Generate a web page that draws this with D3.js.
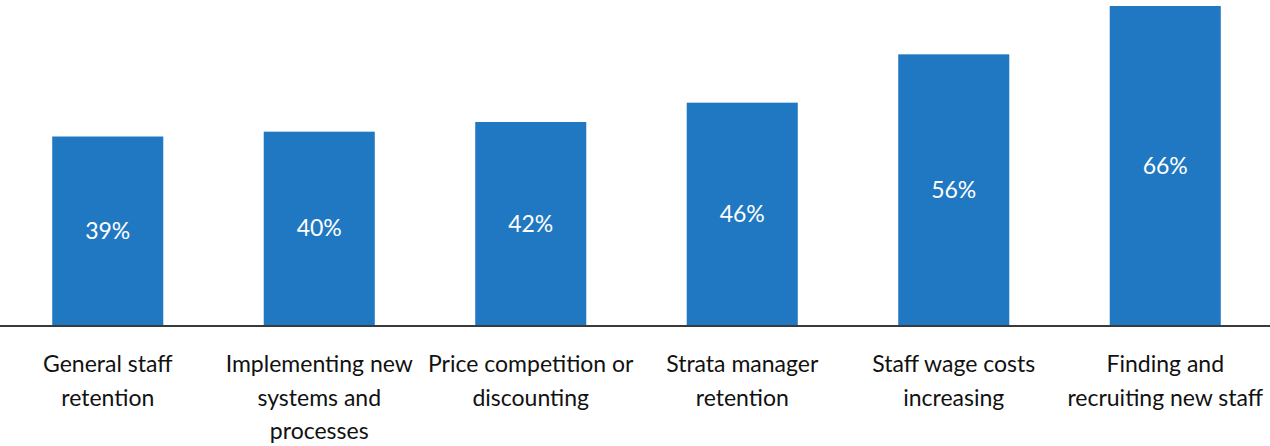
<!DOCTYPE html>
<html>
<head>
<meta charset="utf-8">
<script src="https://cdn.jsdelivr.net/npm/d3@7"></script>
<style>
  html, body { margin: 0; padding: 0; background: #fff; }
  svg { display: block; }
  text { font-family: Lato, "Noto Sans", sans-serif; }
</style>
</head>
<body>
<svg id="chart" width="1270" height="446"></svg>
<script>
// Business challenges: share of respondents
const categories = [
  ["General staff", "retention"],
  ["Implementing new", "systems and", "processes"],
  ["Price competition or", "discounting"],
  ["Strata manager", "retention"],
  ["Staff wage costs", "increasing"],
  ["Finding and", "recruiting new staff"]
];
const values = [39, 40, 42, 46, 56, 66];

const W = 1270, H = 446;
const baseY = 325, topY = 6;
const barColor = "#1f78c1";

const svg = d3.select("#chart");
const idx = d3.range(values.length);

const x = d3.scaleBand()
  .domain(idx)
  .range([2, 1271])
  .paddingInner(0.475)
  .paddingOuter(0.2375);

const y = d3.scaleLinear()
  .domain([0, d3.max(values)])
  .range([baseY, topY]);

// bars
svg.append("g")
  .selectAll("rect")
  .data(idx)
  .join("rect")
  .attr("x", i => x(i))
  .attr("width", x.bandwidth())
  .attr("y", i => y(values[i]))
  .attr("height", i => baseY - y(values[i]))
  .attr("fill", barColor);

// value labels, centred in each bar
svg.append("g")
  .selectAll("text")
  .data(idx)
  .join("text")
  .attr("x", i => x(i) + x.bandwidth() / 2)
  .attr("y", i => (y(values[i]) + baseY) / 2)
  .attr("dy", "0.35em")
  .attr("text-anchor", "middle")
  .attr("fill", "#fff")
  .attr("font-size", 23)
  .text(i => values[i] + "%");

// baseline
svg.append("line")
  .attr("x1", 0).attr("x2", W)
  .attr("y1", baseY + 1).attr("y2", baseY + 1)
  .attr("stroke", "#3a3a3a")
  .attr("stroke-width", 2);

// category labels
const lab = svg.append("g")
  .selectAll("text")
  .data(idx)
  .join("text")
  .attr("text-anchor", "middle")
  .attr("fill", "#111")
  .attr("font-size", 23)
  .attr("transform", i => `translate(${x(i) + x.bandwidth() / 2},372)`);

lab.selectAll("tspan")
  .data(i => categories[i])
  .join("tspan")
  .attr("x", 0)
  .attr("y", (d, j) => j * 33.5)
  .text(d => d);
</script>
</body>
</html>
